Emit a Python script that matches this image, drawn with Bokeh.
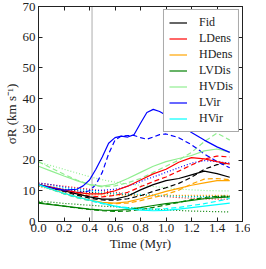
from bokeh.plotting import figure
from bokeh.models import Range1d, Span, LinearAxis, FixedTicker, Legend, LegendItem, CustomJSTickFormatter
from bokeh.embed import file_html
from bokeh.resources import INLINE

# ---------------- data ----------------
t = [0.0, 0.1, 0.2, 0.3, 0.4, 0.5, 0.6, 0.7, 0.8, 0.9, 1.0, 1.1, 1.2, 1.3, 1.4, 1.5]
t_lvir = [0.0, 0.1, 0.2, 0.3, 0.35, 0.4, 0.45, 0.5, 0.55, 0.6, 0.65, 0.7, 0.75,
          0.8, 0.85, 0.9, 0.95, 1.0, 1.1, 1.2, 1.3, 1.4, 1.5]

fid_solid = [12, 11, 10, 9, 8.0, 7.3, 7.3, 8.3, 10.3, 12.0, 13.3, 14.0, 15.2, 16.4, 15.6, 14.4]
fid_dashed = [12, 11, 9.8, 8.6, 7.6, 7.0, 6.9, 7.4, 8.4, 9.8, 11.0, 12.4, 14.4, 17.0, 18.5, 19.0]
fid_dotted = [11.5, 11, 10.5, 10, 9.5, 9.2, 9.0, 8.8, 8.6, 8.5, 8.4, 8.3, 8.2, 8.2, 8.2, 8.2]

ldens_solid = [12, 11.2, 10.3, 9.5, 9.0, 9.0, 10.0, 11.5, 13.5, 15.5, 17.0, 19.3, 20.8, 20.4, 19.5, 18.7]
ldens_dashed = [12, 11, 10, 9, 8.3, 8.0, 8.5, 9.5, 11.3, 13.0, 14.5, 16.4, 18.4, 20.3, 21.3, 21.0]
ldens_dotted = [12.5, 12, 11.5, 11, 10.5, 10, 9.5, 9.0, 8.7, 8.4, 8.1, 7.8, 7.6, 7.4, 7.3, 7.2]

hdens_solid = [12, 10.5, 9.2, 8.0, 7.0, 6.2, 6.0, 6.4, 7.4, 8.6, 9.8, 10.8, 11.8, 12.6, 13.3, 13.3]
hdens_dashed = [12, 10.5, 9.0, 7.8, 6.8, 6.1, 5.8, 6.0, 6.8, 7.8, 8.8, 10.2, 12.2, 13.8, 14.0, 13.6]
hdens_dotted = [11.5, 10.5, 9.8, 9.2, 8.8, 8.6, 8.5, 8.5, 8.5, 8.5, 8.5, 8.5, 8.5, 8.5, 8.5, 8.5]

lvdis_solid = [6.0, 5.5, 5.0, 4.5, 4.0, 3.7, 3.6, 3.9, 4.5, 5.2, 5.8, 6.3, 6.9, 7.4, 7.8, 8.0]
lvdis_dashed = [6.2, 5.6, 5.0, 4.4, 3.9, 3.5, 3.3, 3.4, 3.9, 4.6, 5.4, 6.2, 7.1, 7.8, 8.2, 8.3]
lvdis_dotted = [6.6, 6.3, 5.9, 5.6, 5.3, 5.0, 4.8, 4.5, 4.2, 4.0, 3.8, 3.6, 3.4, 3.3, 3.2, 3.1]

hvdis_solid = [18, 16.4, 14.8, 13.3, 12.0, 11.5, 12.2, 14.0, 16.0, 18.0, 19.5, 20.5, 21.5, 23.0, 23.6, 22.6]
hvdis_dashed = [19.5, 17.4, 15.4, 13.5, 12.0, 11.3, 11.6, 12.6, 14.0, 16.0, 18.0, 20.0, 22.5, 26.0, 28.8, 26.5]
hvdis_dotted = [19.2, 18.2, 17.0, 15.8, 14.6, 13.6, 12.8, 12.2, 11.8, 11.4, 11.0, 10.6, 10.3, 10.1, 10.0, 10.0]

lvir_solid = [12, 11, 10.2, 10.5, 11.6, 13.5, 17.0, 21.0, 25.5, 27.3, 27.8, 27.5, 28.3,
              32.0, 35.5, 36.5, 35.8, 34.6, 32.0, 29.0, 26.5, 24.3, 22.5]
lvir_dashed = [12, 11, 10, 9.5, 9.5, 10, 12, 16, 22, 26.5, 27.8, 28, 28,
               27.3, 26.8, 27.5, 28.3, 28.5, 27.3, 25.0, 22.0, 19.5, 17.5]
lvir_dotted = [12.5, 12.0, 11.2, 10.5, 10.3, 10.2, 10.1, 10.2, 10.3, 10.5, 10.9, 11.5, 12.2,
               13.0, 13.8, 14.5, 15.2, 16.0, 17.5, 19.0, 19.8, 19.5, 19.0]

hvir_solid = [12, 10.5, 9.2, 8.0, 7.0, 6.0, 5.0, 4.2, 3.7, 3.5, 3.6, 4.0, 4.5, 5.0, 5.5, 6.0]
hvir_dashed = [12, 10.5, 9.0, 7.8, 6.8, 5.8, 5.0, 4.5, 4.2, 4.0, 4.2, 4.6, 5.2, 5.8, 6.6, 7.5]
hvir_dotted = [12, 11.5, 11, 10.5, 10, 9.5, 9.2, 9.0, 8.8, 8.5, 8.3, 8.1, 8.0, 8.0, 7.9, 7.8]

model_names = ["Fid", "LDens", "HDens", "LVDis", "HVDis", "LVir", "HVir"]
model_colors = ["#000000", "#ff0000", "#ffa500", "#008000", "#90ee90", "#0000ff", "#00ffff"]
model_series = [
    (t, fid_solid, fid_dashed, fid_dotted),
    (t, ldens_solid, ldens_dashed, ldens_dotted),
    (t, hdens_solid, hdens_dashed, hdens_dotted),
    (t, lvdis_solid, lvdis_dashed, lvdis_dotted),
    (t, hvdis_solid, hvdis_dashed, hvdis_dotted),
    (t_lvir, lvir_solid, lvir_dashed, lvir_dotted),
    (t, hvir_solid, hvir_dashed, hvir_dotted),
]

vline_time = 0.42
x_ticks = [0.0, 0.2, 0.4, 0.6, 0.8, 1.0, 1.2, 1.4, 1.6]
x_tick_labels = ["0.0", "0.2", "0.4", "0.6", "0.8", "1.0", "1.2", "1.4", "1.6"]
y_ticks = [0, 10, 20, 30, 40, 50, 60, 70]
y_tick_labels = ["0", "10", "20", "30", "40", "50", "60", "70"]

# ---------------- figure ----------------
FONT = "Liberation Serif"
AXC = "#222222"

p = figure(width=250, height=253, output_backend="svg", toolbar_location=None,
           x_range=Range1d(0, 1.6), y_range=Range1d(0, 70),
           min_border_left=30, min_border_right=8, min_border_top=6, min_border_bottom=29)
p.grid.visible = False
p.background_fill_color = "white"
p.outline_line_color = AXC
p.outline_line_width = 1

for ax in (p.xaxis[0], p.yaxis[0]):
    ax.major_tick_in = 4
    ax.major_tick_out = 0
    ax.minor_tick_line_color = None
    ax.axis_line_color = AXC
    ax.major_tick_line_color = AXC
    ax.major_label_text_font = FONT
    ax.major_label_text_font_size = "13px"
    ax.major_label_text_color = AXC
    ax.axis_label_text_font = FONT
    ax.axis_label_text_font_size = "13px"
    ax.axis_label_text_font_style = "normal"
    ax.axis_label_text_color = AXC

p.xaxis.ticker = FixedTicker(ticks=x_ticks)
p.xaxis.major_label_overrides = dict(zip(x_ticks, x_tick_labels))
p.yaxis.ticker = FixedTicker(ticks=y_ticks)
p.yaxis.major_label_overrides = dict(zip(y_ticks, y_tick_labels))
p.xaxis.axis_label = "Time (Myr)"
p.yaxis.axis_label = "σR (km s⁻¹)"
p.xaxis.major_label_standoff = 2
p.yaxis.major_label_standoff = 3
p.xaxis.axis_label_standoff = 1
p.yaxis.axis_label_standoff = 1

# mirror ticks on top and right (no labels)
blank = CustomJSTickFormatter(code="return ''")
top = LinearAxis(ticker=FixedTicker(ticks=x_ticks), formatter=blank, major_tick_in=4, major_tick_out=0,
                 minor_tick_line_color=None, major_label_standoff=0,
                 axis_line_color=AXC, major_tick_line_color=AXC)
right = LinearAxis(ticker=FixedTicker(ticks=y_ticks), formatter=blank, major_tick_in=4, major_tick_out=0,
                   minor_tick_line_color=None, major_label_standoff=0,
                   axis_line_color=AXC, major_tick_line_color=AXC)
p.add_layout(top, "above")
p.add_layout(right, "right")

p.add_layout(Span(location=vline_time, dimension="height", line_color="#c8c8c8",
                  line_width=1.5, level="underlay"))

# draw order: dotted, dashed, solid
for (tt, s, d, o), col in zip(model_series, model_colors):
    p.line(tt, o, line_color=col, line_width=1.2, line_dash="1 2")
for (tt, s, d, o), col in zip(model_series, model_colors):
    p.line(tt, d, line_color=col, line_width=1.2, line_dash="5 3")
items = []
for (tt, s, d, o), col, name in zip(model_series, model_colors, model_names):
    r = p.line(tt, s, line_color=col, line_width=1.2)
    items.append(LegendItem(label=name, renderers=[r]))

legend = Legend(items=items, location="top_right")
legend.margin = 3
legend.padding = 5
legend.spacing = 1
legend.glyph_width = 18
legend.glyph_height = 13
legend.label_height = 13
legend.label_standoff = 12
legend.label_text_font = FONT
legend.label_text_font_size = "12px"
legend.label_text_color = AXC
legend.border_line_color = "#555555"
legend.border_line_width = 1.5
legend.background_fill_color = "white"
legend.background_fill_alpha = 1.0
p.add_layout(legend)

open("out.html", "w").write(file_html(p, INLINE))
